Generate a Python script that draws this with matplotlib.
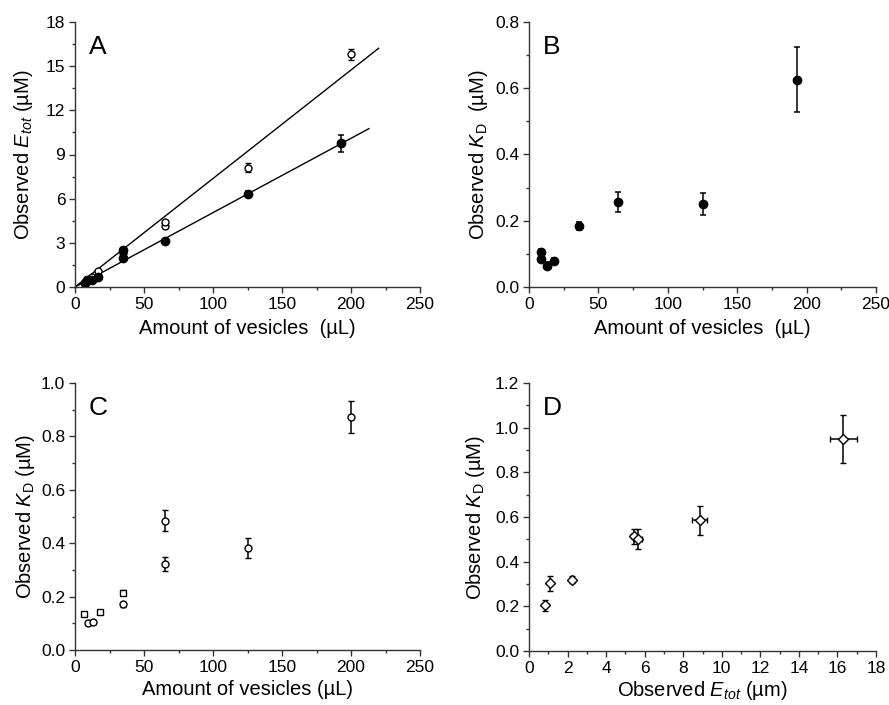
import numpy as np
import matplotlib
matplotlib.use("Agg")
import matplotlib.pyplot as plt
from matplotlib.ticker import MultipleLocator, FormatStrFormatter

plt.rcParams['font.family'] = ['Liberation Sans', 'DejaVu Sans']
plt.rcParams['mathtext.fontset'] = 'custom'
plt.rcParams['mathtext.rm'] = 'Liberation Sans'
plt.rcParams['mathtext.it'] = 'Liberation Sans:italic'

# panel A: observed E_tot vs vesicles
a_open_x = [7, 9, 12, 17, 35, 35, 65, 65, 125, 200]
a_open_y = [0.35, 0.5, 0.65, 1.1, 2.3, 2.5, 4.15, 4.4, 8.1, 15.8]
a_open_err = [0.05, 0.05, 0.05, 0.08, 0.1, 0.1, 0.15, 0.15, 0.3, 0.4]
a_fill_x = [7, 9, 12, 17, 35, 35, 65, 125, 193]
a_fill_y = [0.3, 0.45, 0.5, 0.7, 2.0, 2.5, 3.1, 6.35, 9.75]
a_fill_err = [0.05, 0.05, 0.05, 0.08, 0.1, 0.1, 0.1, 0.15, 0.55]
a_open_slope = 0.0737
a_fill_slope = 0.0505
a_open_xmax = 220
a_fill_xmax = 213

# panel B
b_x = [9, 9, 12.8, 17.8, 36, 64, 125, 193]
b_y = [0.105, 0.085, 0.064, 0.078, 0.183, 0.257, 0.251, 0.626]
b_err = [0.01, 0.01, 0.01, 0.01, 0.012, 0.031, 0.033, 0.099]

# panel C
c_sq_x = [6.7, 18, 35]
c_sq_y = [0.134, 0.142, 0.215]
c_sq_err = [0.008, 0.008, 0.01]
c_ci_x = [9.6, 12.8, 35, 65, 65, 125, 200]
c_ci_y = [0.101, 0.105, 0.171, 0.322, 0.485, 0.381, 0.874]
c_ci_err = [0.008, 0.008, 0.01, 0.025, 0.04, 0.037, 0.06]

# panel D
d_x = [0.85, 1.1, 2.25, 5.45, 5.65, 8.85, 16.3]
d_y = [0.205, 0.303, 0.319, 0.513, 0.5, 0.585, 0.949]
d_xerr = [0.05, 0.05, 0.05, 0.15, 0.2, 0.39, 0.69]
d_yerr = [0.025, 0.033, 0.015, 0.035, 0.045, 0.064, 0.106]


def style_axis(ax, xmax, xmaj, ymax, ymaj, letter):
    ax.set_xlim(0, xmax)
    ax.set_ylim(0, ymax)
    ax.xaxis.set_major_locator(MultipleLocator(xmaj))
    ax.xaxis.set_minor_locator(MultipleLocator(xmaj / 2))
    ax.yaxis.set_major_locator(MultipleLocator(ymaj))
    ax.yaxis.set_minor_locator(MultipleLocator(ymaj / 2))
    ax.spines['top'].set_visible(False)
    ax.spines['right'].set_visible(False)
    for s in ('left', 'bottom'):
        ax.spines[s].set_linewidth(1.0)
        ax.spines[s].set_color('#333333')
    ax.tick_params(which='major', direction='out', length=4, width=1, labelsize=12.5,
                   colors='#333333', labelcolor='black', pad=3)
    ax.tick_params(which='minor', direction='out', length=2.5, width=1, colors='#333333')
    ax.text(0.04, 0.95, letter, transform=ax.transAxes, fontsize=19, va='top', ha='left')


fig = plt.figure(figsize=(8.89, 7.05), dpi=100)
W, H = 889, 705
def place(l, t, r, b):
    return fig.add_axes([l / W, (H - b) / H, (r - l) / W, (b - t) / H])

axA = place(75, 22, 420, 287)
axB = place(529, 22, 876, 287)
axC = place(75, 383, 420, 650)
axD = place(529, 383, 876, 651)

eb = dict(ecolor='black', elinewidth=1.1, capsize=2.5, capthick=1.1, linestyle='none')
lab = dict(fontsize=14.5)

# A
xs = np.array([0, a_open_xmax])
axA.plot(xs, a_open_slope * xs, color='black', lw=1)
xs = np.array([0, a_fill_xmax])
axA.plot(xs, a_fill_slope * xs, color='black', lw=1)
axA.errorbar(a_open_x, a_open_y, yerr=a_open_err, marker='o', ms=5, mfc='white', mec='black', mew=1, **eb)
axA.errorbar(a_fill_x, a_fill_y, yerr=a_fill_err, marker='o', ms=6, mfc='black', mec='black', **eb)
style_axis(axA, 250, 50, 18, 3, 'A')
axA.set_xlabel('Amount of vesicles  (µL)', labelpad=5, **lab)
axA.set_ylabel('Observed $E_{tot}$ (µM)', labelpad=8, **lab)

# B
axB.errorbar(b_x, b_y, yerr=b_err, marker='o', ms=6, mfc='black', mec='black', **eb)
style_axis(axB, 250, 50, 0.8, 0.2, 'B')
axB.yaxis.set_major_formatter(FormatStrFormatter('%.1f'))
axB.set_xlabel('Amount of vesicles  (µL)', labelpad=5, **lab)
axB.set_ylabel('Observed $K_{\\mathrm{D}}$  (µM)', labelpad=4, **lab)

# C
axC.errorbar(c_sq_x, c_sq_y, yerr=c_sq_err, marker='s', ms=5, mfc='white', mec='black', mew=1, **eb)
axC.errorbar(c_ci_x, c_ci_y, yerr=c_ci_err, marker='o', ms=5, mfc='white', mec='black', mew=1, **eb)
style_axis(axC, 250, 50, 1.0, 0.2, 'C')
axC.yaxis.set_major_formatter(FormatStrFormatter('%.1f'))
axC.set_xlabel('Amount of vesicles (µL)', labelpad=4, **lab)
axC.set_ylabel('Observed $K_{\\mathrm{D}}$ (µM)', labelpad=3, **lab)

# D
axD.errorbar(d_x, d_y, xerr=d_xerr, yerr=d_yerr, marker='D', ms=5, mfc='white', mec='black', mew=1, **eb)
style_axis(axD, 18, 2, 1.2, 0.2, 'D')
axD.yaxis.set_major_formatter(FormatStrFormatter('%.1f'))
axD.set_xlabel('Observed $E_{tot}$ (µm)', labelpad=2, **lab)
axD.set_ylabel('Observed $K_{\\mathrm{D}}$ (µM)', labelpad=6, **lab)

fig.savefig('out.png', dpi=100)
